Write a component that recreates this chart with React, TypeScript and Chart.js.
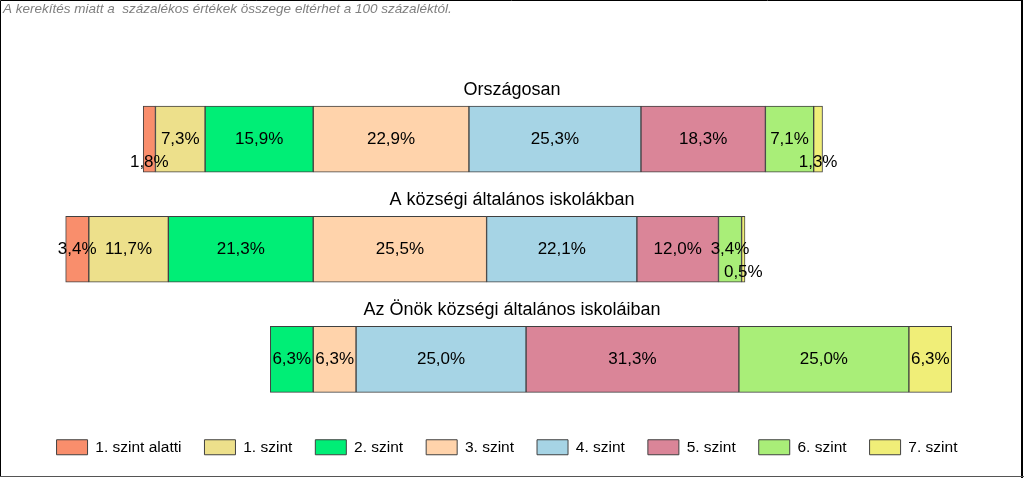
import React, { useEffect, useRef } from 'react';
import { Chart, registerables } from 'chart.js';

Chart.register(...registerables);

const categories = ['Országosan', 'A községi általános iskolákban', 'Az Önök községi általános iskoláiban'];
const levelNames = ['1. szint alatti', '1. szint', '2. szint', '3. szint', '4. szint', '5. szint', '6. szint', '7. szint'];
const belowLevel1 = [1.8, 3.4, 0];
const level1 = [7.3, 11.7, 0];
const level2 = [15.9, 21.3, 6.3];
const level3 = [22.9, 25.5, 6.3];
const level4 = [25.3, 22.1, 25.0];
const level5 = [18.3, 12.0, 31.3];
const level6 = [7.1, 3.4, 25.0];
const level7 = [1.3, 0.5, 6.3];
const note = 'A kerekítés miatt a  százalékos értékek összege eltérhet a 100 százaléktól.';

const levelValues = [belowLevel1, level1, level2, level3, level4, level5, level6, level7];
const colors = ['#F98E6C', '#EDE08B', '#00EE76', '#FFD3AB', '#A6D4E5', '#DA8598', '#A9EE78', '#F0EE78'];
const FONT = "'Liberation Sans', Arial, sans-serif";

function buildRanges(): [number, number][][] {
  const out: [number, number][][] = levelValues.map(() => []);
  categories.forEach((_, ci) => {
    let pos = -(belowLevel1[ci] + level1[ci] + level2[ci]);
    levelValues.forEach((arr, li) => {
      const v = arr[ci];
      out[li].push([pos, pos + v]);
      pos += v;
    });
  });
  return out;
}

const fmt = (v: number) => v.toFixed(1).replace('.', ',') + '%';

const overlayPlugin = {
  id: 'overlay',
  afterDatasetsDraw(chart: any) {
    const ctx = chart.ctx;
    ctx.save();
    ctx.fillStyle = '#000';
    ctx.textAlign = 'center';
    ctx.textBaseline = 'middle';
    ctx.font = `17px ${FONT}`;
    chart.data.datasets.forEach((ds: any, di: number) => {
      const meta = chart.getDatasetMeta(di);
      meta.data.forEach((el: any, ci: number) => {
        const v = levelValues[di][ci];
        if (!v) return;
        const x = (el.x + el.base) / 2;
        let y = el.y;
        if (v < 2.5) y += 23;
        ctx.fillText(fmt(v), x, y);
      });
    });
    ctx.font = `18px ${FONT}`;
    const meta0 = chart.getDatasetMeta(3);
    meta0.data.forEach((el: any, ci: number) => {
      const top = el.y - el.height / 2;
      ctx.fillText(categories[ci], chart.width / 2, top - 16);
    });
    ctx.restore();
  },
  afterDraw(chart: any) {
    const ctx = chart.ctx;
    ctx.save();
    ctx.font = `italic 13.5px ${FONT}`;
    ctx.fillStyle = '#7F7F7F';
    ctx.textAlign = 'left';
    ctx.textBaseline = 'middle';
    ctx.fillText(note, 3, 9);
    ctx.strokeStyle = '#000';
    ctx.lineWidth = 1;
    ctx.beginPath();
    ctx.moveTo(0.5, 477);
    ctx.lineTo(0.5, 0.5);
    ctx.lineTo(1023, 0.5);
    ctx.stroke();
    ctx.lineWidth = 2;
    ctx.beginPath();
    ctx.moveTo(1022, 0);
    ctx.lineTo(1022, 478);
    ctx.stroke();
    ctx.strokeStyle = '#555';
    ctx.lineWidth = 1;
    ctx.beginPath();
    ctx.moveTo(0, 476.5);
    ctx.lineTo(1024, 476.5);
    ctx.stroke();
    ctx.restore();
  },
};

export default function App() {
  const ref = useRef<HTMLCanvasElement | null>(null);
  useEffect(() => {
    document.body.style.margin = '0';
    const ranges = buildRanges();
    const chart = new Chart(ref.current!, {
      type: 'bar',
      data: {
        labels: categories,
        datasets: levelNames.map((name, i) => ({
          label: name,
          data: ranges[i] as any,
          backgroundColor: colors[i],
          borderColor: '#404040',
          borderWidth: 1,
          borderSkipped: false,
          barThickness: 66,
          grouped: false,
        })),
      },
      options: {
        indexAxis: 'y',
        animation: false,
        responsive: false,
        maintainAspectRatio: false,
        layout: { padding: { left: 31, right: 41, top: 84, bottom: 13 } },
        scales: {
          x: {
            display: true,
            min: -41.5,
            max: 98.5,
            grid: { display: false },
            border: { display: false },
            ticks: { display: false },
            afterFit: (s: any) => { s.height = 2; },
          },
          y: { display: false },
        },
        plugins: {
          tooltip: { enabled: false },
          legend: {
            position: 'bottom',
            labels: {
              color: '#000',
              font: { family: FONT, size: 15.5 },
              boxWidth: 31,
              boxHeight: 15,
              padding: 23,
            },
          },
        },
      },
      plugins: [overlayPlugin],
    });
    return () => chart.destroy();
  }, []);
  return (
    <div style={{ position: 'absolute', left: 0, top: 0, width: 1024, height: 478, background: '#fff' }}>
      <canvas ref={ref} width={1024} height={478} style={{ width: 1024, height: 478 }} />
    </div>
  );
}
